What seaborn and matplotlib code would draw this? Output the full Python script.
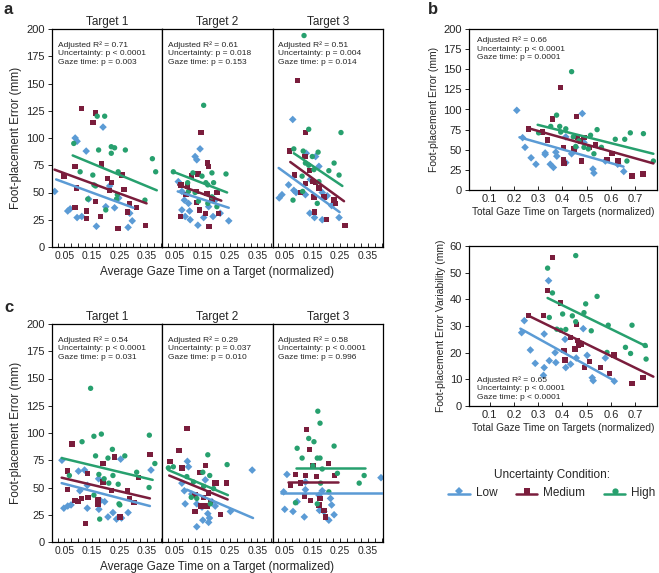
import numpy as np
import pandas as pd
import matplotlib
matplotlib.use("Agg")
import matplotlib.pyplot as plt
import seaborn as sns
from matplotlib.lines import Line2D
from matplotlib.ticker import MultipleLocator
from matplotlib.legend_handler import HandlerLine2DCompound

sns.set_style("ticks")
plt.rcParams['font.family'] = ['Liberation Sans', 'DejaVu Sans']

conditions = ["Low", "Medium", "High"]
palette = {"Low": "#5b9bd5", "Medium": "#7a1d3c", "High": "#27a06e"}
marker_map = {"Low": "D", "Medium": "s", "High": "o"}

# ---------------- Panel a : Target 1 ----------------
a1_low_x = [0.015, 0.062, 0.071, 0.089, 0.096, 0.096, 0.113, 0.129, 0.138, 0.166, 0.19, 0.2, 0.232, 0.247, 0.287, 0.296, 0.281, 0.214]
a1_low_y = [51, 33, 35, 100, 97, 27, 28, 88, 44, 19, 110, 37, 36, 45, 31, 24, 18, 56]
a1_med_x = [0.048, 0.089, 0.111, 0.153, 0.162, 0.089, 0.093, 0.129, 0.129, 0.163, 0.18, 0.184, 0.206, 0.214, 0.22, 0.245, 0.259, 0.266, 0.279, 0.287, 0.312, 0.344]
a1_med_y = [65, 74, 127, 114, 123, 36, 54, 33, 26, 42, 28, 76, 63, 52, 59, 17, 66, 53, 32, 40, 36, 20]
a1_high_x = [0.084, 0.107, 0.135, 0.153, 0.157, 0.169, 0.174, 0.196, 0.2, 0.22, 0.22, 0.232, 0.239, 0.245, 0.242, 0.271, 0.342, 0.369, 0.381, 0.163]
a1_high_y = [95, 69, 44, 66, 57, 120, 89, 120, 34, 92, 86, 91, 44, 69, 48, 89, 43, 81, 69, 56]
a1_fit_x = [[0.02, 0.30], [0.014, 0.348], [0.08, 0.385]]
a1_fit_y = [[62, 36], [71, 40], [84, 52]]
a1_stats = ["0.71", "< 0.0001", "= 0.003"]

# ---------------- Panel a : Target 2 ----------------
a2_low_x = [0.142, 0.124, 0.13, 0.063, 0.076, 0.085, 0.1, 0.104, 0.088, 0.106, 0.134, 0.155, 0.173, 0.197, 0.215, 0.246, 0.076, 0.189]
a2_low_y = [90, 83, 80, 60, 51, 43, 40, 33, 28, 25, 20, 27, 37, 43, 31, 24, 34, 28]
a2_med_x = [0.145, 0.17, 0.173, 0.134, 0.11, 0.073, 0.097, 0.13, 0.167, 0.203, 0.185, 0.091, 0.139, 0.13, 0.161, 0.209, 0.07, 0.175]
a2_med_y = [105, 77, 74, 67, 65, 57, 56, 51, 49, 50, 44, 48, 34, 41, 31, 31, 28, 19]
a2_high_x = [0.155, 0.045, 0.097, 0.116, 0.149, 0.163, 0.17, 0.185, 0.191, 0.236, 0.124, 0.136, 0.17, 0.1, 0.185, 0.203]
a2_high_y = [130, 69, 59, 68, 65, 59, 57, 68, 59, 67, 50, 42, 40, 51, 46, 37]
a2_fit_x = [[0.061, 0.246], [0.063, 0.219], [0.045, 0.24]]
a2_fit_y = [[51, 36], [57, 42.5], [69, 50]]
a2_stats = ["0.61", "= 0.018", "= 0.153"]

# ---------------- Panel a : Target 3 ----------------
a3_low_x = [0.078, 0.127, 0.161, 0.173, 0.039, 0.029, 0.063, 0.082, 0.09, 0.142, 0.185, 0.203, 0.219, 0.14, 0.157, 0.185, 0.246, 0.124]
a3_low_y = [117, 86, 83, 74, 48, 45, 57, 52, 50, 62, 50, 47, 38, 31, 27, 25, 27, 48]
a3_med_x = [0.096, 0.124, 0.067, 0.085, 0.122, 0.138, 0.149, 0.161, 0.173, 0.191, 0.124, 0.228, 0.234, 0.155, 0.157, 0.2, 0.268, 0.106]
a3_med_y = [153, 105, 88, 66, 83, 70, 60, 59, 54, 46, 58, 43, 40, 46, 32, 25, 20, 50]
a3_high_x = [0.119, 0.136, 0.253, 0.082, 0.116, 0.149, 0.17, 0.124, 0.136, 0.155, 0.228, 0.209, 0.112, 0.246, 0.173, 0.114, 0.079, 0.167]
a3_high_y = [194, 108, 105, 90, 88, 83, 87, 77, 75, 71, 77, 70, 65, 66, 60, 51, 43, 40]
a3_fit_x = [[0.027, 0.248], [0.069, 0.264], [0.082, 0.258]]
a3_fit_y = [[72.5, 32], [78, 42], [86, 56]]
a3_stats = ["0.51", "= 0.004", "= 0.014"]

# ---------------- Panel c : Target 1 ----------------
c1_low_x = [0.041, 0.048, 0.062, 0.074, 0.101, 0.123, 0.133, 0.133, 0.174, 0.181, 0.175, 0.196, 0.208, 0.226, 0.239, 0.254, 0.257, 0.281, 0.364, 0.106]
c1_low_y = [75, 31, 33, 34, 65, 66, 52, 31, 58, 38, 30, 37, 23, 27, 21, 76, 22, 27, 66, 47]
c1_med_x = [0.077, 0.062, 0.062, 0.089, 0.099, 0.111, 0.133, 0.135, 0.127, 0.172, 0.172, 0.19, 0.19, 0.22, 0.232, 0.251, 0.279, 0.285, 0.303, 0.318, 0.36]
c1_med_y = [90, 65, 48, 38, 37, 40, 63, 41, 17, 39, 35, 72, 55, 47, 78, 23, 47, 40, 36, 59, 80]
c1_high_x = [0.145, 0.157, 0.184, 0.114, 0.163, 0.224, 0.208, 0.269, 0.175, 0.194, 0.226, 0.245, 0.211, 0.157, 0.248, 0.251, 0.312, 0.358, 0.378, 0.357, 0.178, 0.068]
c1_high_y = [141, 97, 99, 92, 79, 85, 77, 79, 62, 58, 61, 53, 54, 43, 35, 34, 64, 98, 72, 50, 21, 61]
c1_fit_x = [[0.04, 0.36], [0.04, 0.36], [0.04, 0.37]]
c1_fit_y = [[54, 33], [59, 40], [77, 57]]
c1_stats = ["0.54", "< 0.0001", "= 0.031"]

# ---------------- Panel c : Target 2 ----------------
c2_low_x = [0.331, 0.096, 0.1, 0.085, 0.112, 0.161, 0.088, 0.13, 0.149, 0.17, 0.176, 0.173, 0.152, 0.13, 0.252, 0.185, 0.197, 0.076]
c2_low_y = [66, 74, 69, 47, 44, 57, 35, 35, 32, 26, 22, 18, 20, 14, 28, 37, 33, 54]
c2_med_x = [0.094, 0.066, 0.033, 0.076, 0.142, 0.161, 0.194, 0.201, 0.237, 0.124, 0.155, 0.173, 0.146, 0.167, 0.124, 0.179, 0.215]
c2_med_y = [104, 84, 74, 68, 64, 70, 54, 54, 54, 43, 41, 45, 33, 33, 28, 37, 25]
c2_high_x = [0.027, 0.045, 0.17, 0.24, 0.094, 0.118, 0.152, 0.177, 0.155, 0.191, 0.11, 0.179, 0.13]
c2_high_y = [68, 69, 80, 71, 60, 55, 64, 61, 51, 49, 41, 35, 40]
c2_fit_x = [[0.094, 0.334], [0.03, 0.242], [0.027, 0.243]]
c2_fit_y = [[48, 22], [61, 39], [66, 43]]
c2_stats = ["0.29", "= 0.037", "= 0.010"]

# ---------------- Panel c : Target 3 ----------------
c3_low_x = [0.398, 0.057, 0.045, 0.124, 0.124, 0.185, 0.215, 0.219, 0.079, 0.049, 0.12, 0.175, 0.191, 0.209, 0.228, 0.173, 0.094]
c3_low_y = [59, 62, 46, 55, 48, 47, 40, 34, 28, 30, 23, 29, 28, 20, 25, 43, 37]
c3_med_x = [0.128, 0.139, 0.152, 0.124, 0.088, 0.069, 0.106, 0.164, 0.207, 0.23, 0.12, 0.142, 0.177, 0.173, 0.191, 0.197]
c3_med_y = [103, 85, 70, 61, 62, 52, 54, 60, 72, 61, 42, 38, 40, 34, 29, 23]
c3_high_x = [0.169, 0.177, 0.136, 0.155, 0.228, 0.094, 0.112, 0.167, 0.177, 0.151, 0.185, 0.337, 0.24, 0.319, 0.179, 0.209, 0.088, 0.167]
c3_high_y = [120, 109, 95, 92, 88, 86, 77, 77, 77, 70, 67, 61, 63, 54, 54, 46, 36, 35]
c3_fit_x = [[0.037, 0.405], [0.061, 0.243], [0.09, 0.341]]
c3_fit_y = [[45, 45], [55, 55], [68, 68]]
c3_stats = ["0.58", "< 0.0001", "= 0.996"]

# ---------------- Panel b : top (error) ----------------
b1_low_x = [0.212, 0.236, 0.246, 0.271, 0.291, 0.329, 0.329, 0.35, 0.363, 0.373, 0.377, 0.414, 0.414, 0.438, 0.482, 0.489, 0.526, 0.53, 0.577, 0.628, 0.653, 0.455]
b1_low_y = [99, 65, 53, 40, 32, 46, 44, 32, 28, 47, 42, 66, 34, 45, 95, 59, 26, 21, 36, 32, 23, 53]
b1_med_x = [0.26, 0.318, 0.339, 0.359, 0.393, 0.404, 0.404, 0.407, 0.448, 0.457, 0.462, 0.475, 0.479, 0.489, 0.512, 0.537, 0.584, 0.605, 0.629, 0.687, 0.732]
b1_med_y = [76, 72, 62, 88, 127, 53, 38, 33, 51, 91, 66, 61, 36, 65, 53, 56, 38, 45, 36, 17.5, 20]
b1_high_x = [0.302, 0.352, 0.376, 0.389, 0.393, 0.414, 0.438, 0.445, 0.455, 0.468, 0.489, 0.507, 0.516, 0.53, 0.543, 0.561, 0.618, 0.657, 0.666, 0.68, 0.734, 0.775]
b1_high_y = [71, 79, 93, 79, 72, 76, 147, 66, 54, 61, 53, 51, 68, 45, 75, 53, 63, 63, 36, 71, 70, 36]
b1_fit_x = [[0.223, 0.652], [0.257, 0.775], [0.298, 0.775]]
b1_fit_y = [[65.5, 29], [77, 33], [81, 45]]
b1_stats = ["0.66", "< 0.0001", "= 0.0001"]

# ---------------- Panel b : bottom (variability) ----------------
b2_low_x = [0.232, 0.243, 0.268, 0.288, 0.325, 0.325, 0.346, 0.322, 0.37, 0.373, 0.343, 0.411, 0.414, 0.434, 0.457, 0.486, 0.502, 0.523, 0.527, 0.577, 0.614]
b2_low_y = [27.5, 32, 21, 16, 14.4, 27, 17, 11.5, 20, 16.3, 47, 25, 14.4, 15.7, 18, 29, 19, 10.6, 9.5, 18, 9.3]
b2_med_x = [0.261, 0.321, 0.339, 0.359, 0.391, 0.407, 0.411, 0.434, 0.452, 0.459, 0.462, 0.466, 0.479, 0.492, 0.513, 0.557, 0.595, 0.612, 0.687, 0.732]
b2_med_y = [34, 34, 43.4, 55.8, 38.6, 20.8, 17.2, 25.6, 21.4, 30.6, 24.6, 22.7, 23.3, 14.4, 16.6, 14.4, 12.1, 19.1, 8.4, 10.8]
b2_high_x = [0.339, 0.359, 0.346, 0.377, 0.393, 0.401, 0.414, 0.441, 0.455, 0.455, 0.489, 0.496, 0.519, 0.543, 0.584, 0.589, 0.66, 0.681, 0.687, 0.741, 0.745]
b2_high_y = [51.7, 42.4, 33.2, 28.8, 28.4, 34.5, 28.7, 33.8, 56.4, 31.6, 35, 38.3, 28.2, 41.1, 20.1, 30.3, 22, 19.7, 30.3, 22.7, 17.6]
b2_fit_x = [[0.227, 0.618], [0.257, 0.775], [0.339, 0.748]]
b2_fit_y = [[29, 9.3], [34, 11], [40.5, 22.3]]
b2_stats = ["0.65", "< 0.0001", "< 0.0001"]

gaze_ticks = [0.05, 0.15, 0.25, 0.35]
gaze_ticklabels = ["0.05", "0.15", "0.25", "0.35"]
total_ticks = [0.1, 0.2, 0.3, 0.4, 0.5, 0.6, 0.7]
total_ticklabels = ["0.1", "0.2", "0.3", "0.4", "0.5", "0.6", "0.7"]
err_ticks = [0, 25, 50, 75, 100, 125, 150, 175, 200]
var_ticks = [0, 10, 20, 30, 40, 50, 60]

W, H = 659, 573
fig = plt.figure(figsize=(W / 100, H / 100), dpi=100)


def rect(left, top, right, bottom):
    return [left / W, 1 - bottom / H, (right - left) / W, (bottom - top) / H]


def stats_text(st):
    return ("Adjusted R\u00b2 = " + st[0] + "\nUncertainty: p " + st[1]
            + "\nGaze time: p " + st[2])


def draw(ax, lx, ly, mx, my, hx, hy, fx, fy):
    df = pd.DataFrame({
        "x": lx + mx + hx,
        "y": ly + my + hy,
        "cond": ["Low"] * len(lx) + ["Medium"] * len(mx) + ["High"] * len(hx),
    })
    sns.scatterplot(data=df, x="x", y="y", hue="cond", style="cond",
                    hue_order=conditions, style_order=conditions,
                    palette=palette, markers=marker_map, s=15,
                    linewidth=0, legend=False, ax=ax, zorder=2)
    ldf = pd.DataFrame({
        "x": sum(fx, []),
        "y": sum(fy, []),
        "cond": [c for c in conditions for _ in range(2)],
    })
    sns.lineplot(data=ldf, x="x", y="y", hue="cond", hue_order=conditions,
                 palette=palette, linewidth=1.8, legend=False, ax=ax,
                 estimator=None, zorder=3)
    ax.set_xlabel("")
    ax.set_ylabel("")
    for s in ax.spines.values():
        s.set_visible(True)
        s.set_linewidth(0.9)
        s.set_color("black")


def gaze_axes(ax, first, title, st):
    ax.set_xlim(0.005, 0.405)
    ax.set_ylim(0, 200)
    ax.set_xticks(gaze_ticks)
    ax.set_xticklabels(gaze_ticklabels)
    ax.xaxis.set_minor_locator(MultipleLocator(0.025))
    ax.tick_params(axis="x", which="both", direction="in", length=3, width=0.7,
                   labelsize=7.5, pad=3)
    ax.set_yticks(err_ticks)
    ax.tick_params(axis="y", direction="out", length=3, width=0.7,
                   labelsize=8, pad=2)
    if not first:
        ax.tick_params(axis="y", left=False, labelleft=False)
    else:
        ax.set_ylabel("Foot-placement Error (mm)", fontsize=8.5, labelpad=3)
    ax.set_title(title, fontsize=8.5, pad=3)
    ax.text(0.05, 0.945, stats_text(st), transform=ax.transAxes, va="top",
            ha="left", fontsize=6, linespacing=1.35)


a_sets = [
    (a1_low_x, a1_low_y, a1_med_x, a1_med_y, a1_high_x, a1_high_y, a1_fit_x, a1_fit_y, a1_stats),
    (a2_low_x, a2_low_y, a2_med_x, a2_med_y, a2_high_x, a2_high_y, a2_fit_x, a2_fit_y, a2_stats),
    (a3_low_x, a3_low_y, a3_med_x, a3_med_y, a3_high_x, a3_high_y, a3_fit_x, a3_fit_y, a3_stats),
]
c_sets = [
    (c1_low_x, c1_low_y, c1_med_x, c1_med_y, c1_high_x, c1_high_y, c1_fit_x, c1_fit_y, c1_stats),
    (c2_low_x, c2_low_y, c2_med_x, c2_med_y, c2_high_x, c2_high_y, c2_fit_x, c2_fit_y, c2_stats),
    (c3_low_x, c3_low_y, c3_med_x, c3_med_y, c3_high_x, c3_high_y, c3_fit_x, c3_fit_y, c3_stats),
]
pw = 110.3
for (sets, top, bottom) in [(a_sets, 29, 247), (c_sets, 324, 542)]:
    for i, d in enumerate(sets):
        ax = fig.add_axes(rect(52 + i * pw, top, 52 + (i + 1) * pw, bottom))
        draw(ax, *d[:8])
        gaze_axes(ax, i == 0, "Target %d" % (i + 1), d[8])

fig.text(217.5 / W, 1 - 272 / H, "Average Gaze Time on a Target (normalized)",
         ha="center", va="center", fontsize=8.5)
fig.text(217.5 / W, 1 - 567 / H, "Average Gaze Time on a Target (normalized)",
         ha="center", va="center", fontsize=8.5)

# panel b
for (d, top, bottom, ylab, yt, ylim, txt_y, va) in [
    ((b1_low_x, b1_low_y, b1_med_x, b1_med_y, b1_high_x, b1_high_y, b1_fit_x, b1_fit_y, b1_stats),
     29, 190, "Foot-placement Error (mm)", err_ticks, (0, 200), 0.955, "top"),
    ((b2_low_x, b2_low_y, b2_med_x, b2_med_y, b2_high_x, b2_high_y, b2_fit_x, b2_fit_y, b2_stats),
     246, 406, "Foot-placement Error Variability (mm)", var_ticks, (0, 60), 0.03, "bottom"),
]:
    ax = fig.add_axes(rect(469, top, 657, bottom))
    draw(ax, *d[:8])
    ax.set_xlim(0.015, 0.79)
    ax.set_ylim(*ylim)
    ax.set_xticks(total_ticks)
    ax.set_xticklabels(total_ticklabels)
    ax.set_yticks(yt)
    ax.tick_params(axis="x", direction="in", length=3, width=0.7, labelsize=8, pad=3)
    ax.tick_params(axis="y", direction="out", length=3, width=0.7, labelsize=8, pad=2)
    ax.set_xlabel("Total Gaze Time on Targets (normalized)", fontsize=7.3, labelpad=2)
    ax.set_ylabel(ylab, fontsize=7.5, labelpad=3)
    ax.text(0.04, txt_y, stats_text(d[8]), transform=ax.transAxes, va=va,
            ha="left", fontsize=6, linespacing=1.35)


class MarkerAboveLine(HandlerLine2DCompound):
    def create_artists(self, legend, orig_handle, xdescent, ydescent,
                       width, height, fontsize, trans):
        arts = super().create_artists(legend, orig_handle, xdescent, ydescent,
                                      width, height, fontsize, trans)
        arts[0].set_ydata(np.asarray(arts[0].get_ydata()) - 0.32 * height)
        arts[1].set_ydata(np.asarray(arts[1].get_ydata()) + 0.05 * height)
        return arts


handles = [Line2D([0], [0], color=palette[c], marker=marker_map[c], markersize=4.5,
                  linewidth=1.8, markeredgewidth=0) for c in conditions]
leg = fig.legend(handles, conditions, loc="center",
                 bbox_to_anchor=(552 / W, 1 - 484 / H), ncol=3,
                 title="Uncertainty Condition:", frameon=False, fontsize=8.5,
                 title_fontsize=8.5, handlelength=1.8, columnspacing=1.6,
                 handletextpad=0.5, handler_map={Line2D: MarkerAboveLine()})

for lab, x, y in [("a", 4, 10), ("b", 428, 10), ("c", 4, 308)]:
    fig.text(x / W, 1 - y / H, lab, fontsize=12, fontweight="bold",
             ha="left", va="center")

fig.savefig("out.png", dpi=100)
